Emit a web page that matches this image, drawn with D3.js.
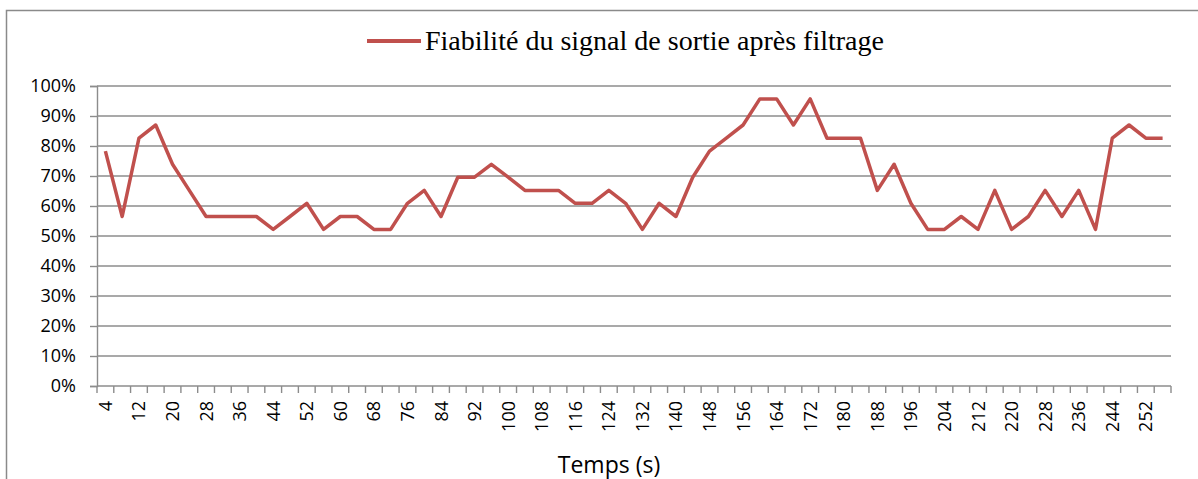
<!DOCTYPE html>
<html>
<head>
<meta charset="utf-8">
<script src="https://cdn.jsdelivr.net/npm/d3@7"></script>
<style>
  html, body { margin: 0; padding: 0; background: #fff; }
  svg { display: block; }
</style>
</head>
<body>
<svg id="chart" width="1198" height="479"></svg>
<script>
// Time axis categories (seconds)
const times = d3.range(4, 257, 4);

// Reliability of the filtered output signal, in percent
const reliability = [
  78.3, 56.5, 82.6, 87.0, 73.9, 65.2, 56.5, 56.5, 56.5, 56.5,
  52.2, 56.5, 60.9, 52.2, 56.5, 56.5, 52.2, 52.2, 60.9, 65.2,
  56.5, 69.6, 69.6, 73.9, 69.6, 65.2, 65.2, 65.2, 60.9, 60.9,
  65.2, 60.9, 52.2, 60.9, 56.5, 69.6, 78.3, 82.6, 87.0, 95.7,
  95.7, 87.0, 95.7, 82.6, 82.6, 82.6, 65.2, 73.9, 60.9, 52.2,
  52.2, 56.5, 52.2, 65.2, 52.2, 56.5, 65.2, 56.5, 65.2, 52.2,
  82.6, 87.0, 82.6, 82.6
];

const yTicks = d3.range(0, 101, 10);
const seriesName = "Fiabilité du signal de sortie après filtrage";
const xTitle = "Temps (s)";

const svg = d3.select("#chart");
const W = 1198, H = 479;
const plot = { left: 97, right: 1171, top: 86, bottom: 386 };

const lineColor = "#C0504D";
const gridColor = "#8c8c8c";
const axisFont = "'Open Sans', 'Noto Sans', sans-serif";

// Outer chart frame (extends past the right and bottom edges)
svg.append("rect")
  .attr("x", 6.5).attr("y", 10.5)
  .attr("width", W + 20).attr("height", H + 20)
  .attr("fill", "#fff")
  .attr("stroke", "#8a8a8a")
  .attr("stroke-width", 1.5);

const x = d3.scaleBand()
  .domain(times)
  .range([plot.left, plot.right])
  .padding(0);

const y = d3.scaleLinear()
  .domain([0, 100])
  .range([plot.bottom, plot.top]);

// Horizontal gridlines
svg.append("g")
  .selectAll("line")
  .data(yTicks.filter(d => d > 0))
  .join("line")
  .attr("x1", plot.left).attr("x2", plot.right)
  .attr("y1", d => y(d)).attr("y2", d => y(d))
  .attr("stroke", gridColor)
  .attr("stroke-width", 1.4);

// Y axis
const yAxis = svg.append("g")
  .attr("transform", `translate(${plot.left},0)`)
  .call(d3.axisLeft(y).tickValues(yTicks).tickFormat(d => d + "%").tickSize(7).tickPadding(14));
yAxis.select(".domain").attr("stroke", gridColor).attr("stroke-width", 1.4);
yAxis.selectAll(".tick line").attr("stroke", gridColor).attr("stroke-width", 1.4);
yAxis.selectAll(".tick text")
  .attr("fill", "#000")
  .style("font-family", axisFont)
  .style("font-size", "18px");

// X axis baseline
svg.append("line")
  .attr("x1", plot.left).attr("x2", plot.right)
  .attr("y1", plot.bottom).attr("y2", plot.bottom)
  .attr("stroke", gridColor)
  .attr("stroke-width", 1.4);

// Tick marks sit on the category boundaries
const bw = x.bandwidth();
const boundaries = times.map(t => x(t)).concat([x(times[times.length - 1]) + bw]);
svg.append("g")
  .selectAll("line")
  .data(boundaries)
  .join("line")
  .attr("x1", d => d).attr("x2", d => d)
  .attr("y1", plot.bottom).attr("y2", plot.bottom + 7)
  .attr("stroke", gridColor)
  .attr("stroke-width", 1.4);

// Rotated category labels, every other category
svg.append("g")
  .selectAll("text")
  .data(times.filter((d, i) => i % 2 === 0))
  .join("text")
  .attr("transform", d => `translate(${x(d) + bw / 2 + 6.5},401) rotate(-90)`)
  .attr("text-anchor", "end")
  .style("font-family", axisFont)
  .style("font-size", "18px")
  .attr("fill", "#000")
  .text(d => d);

// X axis title
svg.append("text")
  .attr("x", 609).attr("y", 473)
  .attr("text-anchor", "middle")
  .style("font-family", axisFont)
  .style("font-size", "23px")
  .attr("fill", "#000")
  .text(xTitle);

// Data line
const line = d3.line()
  .x((d, i) => x(times[i]) + bw / 2)
  .y(d => y(d));

svg.append("path")
  .datum(reliability)
  .attr("d", line)
  .attr("fill", "none")
  .attr("stroke", lineColor)
  .attr("stroke-width", 3.5)
  .attr("stroke-linejoin", "round");

// Legend
const legend = svg.append("g");
legend.append("line")
  .attr("x1", 367).attr("x2", 421)
  .attr("y1", 41).attr("y2", 41)
  .attr("stroke", lineColor)
  .attr("stroke-width", 4);
legend.append("text")
  .attr("x", 425).attr("y", 49.5)
  .style("font-family", "'Liberation Serif', 'Times New Roman', serif")
  .style("font-size", "26.5px")
  .attr("textLength", 459)
  .attr("lengthAdjust", "spacingAndGlyphs")
  .attr("fill", "#000")
  .text(seriesName);
</script>
</body>
</html>
